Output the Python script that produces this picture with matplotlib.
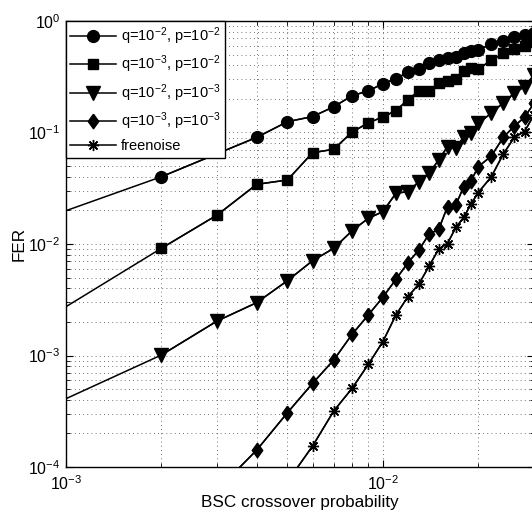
import matplotlib
matplotlib.use("Agg")
import matplotlib.pyplot as plt
from matplotlib.ticker import LogLocator, NullFormatter

plt.rcParams['font.family'] = ['Liberation Sans', 'DejaVu Sans']
plt.rcParams['mathtext.fontset'] = 'custom'
plt.rcParams['mathtext.rm'] = 'Liberation Sans'
plt.rcParams['mathtext.it'] = 'Liberation Sans'

x_full = [0.001, 0.002, 0.003, 0.004, 0.005, 0.006, 0.007, 0.008, 0.009, 0.010,
          0.011, 0.012, 0.013, 0.014, 0.015, 0.016, 0.017, 0.018, 0.019, 0.020,
          0.022, 0.024, 0.026, 0.028, 0.030]
x_circ = [0.001, 0.002, 0.004, 0.005, 0.006, 0.007, 0.008, 0.009, 0.010,
          0.011, 0.012, 0.013, 0.014, 0.015, 0.016, 0.017, 0.018, 0.019, 0.020,
          0.022, 0.024, 0.026, 0.028, 0.030]
fer_q2_p2 = [0.0199, 0.0401, 0.0905, 0.125, 0.139, 0.170, 0.214, 0.236, 0.274,
             0.304, 0.347, 0.369, 0.417, 0.447, 0.463, 0.479, 0.513, 0.538, 0.549,
             0.622, 0.662, 0.714, 0.749, 0.776]
fer_q3_p2 = [0.00274, 0.00915, 0.0182, 0.0343, 0.0375, 0.0659, 0.0707, 0.101, 0.122, 0.138,
             0.157, 0.197, 0.236, 0.236, 0.276, 0.290, 0.304, 0.356, 0.381, 0.371,
             0.444, 0.513, 0.557, 0.597, 0.650]
fer_q2_p3 = [0.00041, 0.00101, 0.00204, 0.00298, 0.00469, 0.00708, 0.00915, 0.01316, 0.0170, 0.0195,
             0.0285, 0.0295, 0.0362, 0.0431, 0.0567, 0.0746, 0.0721, 0.0917, 0.0996, 0.121,
             0.149, 0.185, 0.225, 0.258, 0.328]
x_low = [0.003, 0.004, 0.005, 0.006, 0.007, 0.008, 0.009, 0.010,
         0.011, 0.012, 0.013, 0.014, 0.015, 0.016, 0.017, 0.018, 0.019, 0.020,
         0.022, 0.024, 0.026, 0.028, 0.030]
fer_q3_p3 = [0.000062, 0.000142, 0.000307, 0.000562, 0.000912, 0.00155, 0.00231, 0.00333,
             0.00482, 0.00680, 0.00883, 0.0123, 0.0135, 0.0216, 0.0224, 0.0327, 0.037, 0.0493,
             0.0615, 0.0905, 0.114, 0.137, 0.183]
x_free = [0.005, 0.006, 0.007, 0.008, 0.009, 0.010,
          0.011, 0.012, 0.013, 0.014, 0.015, 0.016, 0.017, 0.018, 0.019, 0.020,
          0.022, 0.024, 0.026, 0.028, 0.030]
fer_free = [0.000074, 0.000154, 0.000318, 0.000508, 0.000834, 0.00133,
            0.00231, 0.00337, 0.00438, 0.00635, 0.00896, 0.0101, 0.0141, 0.0173, 0.0229, 0.0289,
            0.0401, 0.0641, 0.0905, 0.102, 0.144]

labels = [r'q=10$^{-2}$, p=10$^{-2}$', r'q=10$^{-3}$, p=10$^{-2}$',
          r'q=10$^{-2}$, p=10$^{-3}$', r'q=10$^{-3}$, p=10$^{-3}$', 'freenoise']

diamond = [(0, 1), (0.72, 0), (0, -1), (-0.72, 0), (0, 1)]

series = [
    (x_circ, fer_q2_p2, 'o', 8.5, 1),
    (x_full, fer_q3_p2, 's', 7.5, 1),
    (x_full, fer_q2_p3, 'v', 9.5, 1),
    (x_low, fer_q3_p3, diamond, 10.5, 0),
    (x_free, fer_free, (8, 2, 0), 8, 0),
]

fig = plt.figure(figsize=(5.32, 5.17), dpi=100)
ax = fig.add_axes([66/532, 50/517, 468/532, 446/517])

for (xs, ys, mk, ms, skip), lab in zip(series, labels):
    # full line (first point sits on the left axis limit, drawn without marker)
    ax.plot(xs, ys, '-', color='k', lw=1.1)
    ax.plot(xs[skip:], ys[skip:], '-', color='k', lw=1.1, marker=mk, ms=ms,
            mew=1.0, label=lab)

ax.set_xscale('log')
ax.set_yscale('log')
ax.set_xlim(1e-3, 3e-2)
ax.set_ylim(1e-4, 1e0)

ax.xaxis.set_minor_locator(LogLocator(base=10, subs=range(2, 10), numticks=20))
ax.yaxis.set_minor_locator(LogLocator(base=10, subs=range(2, 10), numticks=20))
ax.xaxis.set_minor_formatter(NullFormatter())
ax.yaxis.set_minor_formatter(NullFormatter())
ax.grid(True, which='both', linestyle=(0, (1, 4)), color='#444444', lw=0.6)
ax.tick_params(which='both', direction='in', top=True, right=True, labelsize=11.5)
ax.tick_params(axis='x', which='major', pad=5)
ax.tick_params(axis='y', which='major', pad=4)
ax.tick_params(which='major', length=5)
ax.tick_params(which='minor', length=3)
for s in ax.spines.values():
    s.set_linewidth(1.0)

ax.set_xlabel('BSC crossover probability', fontsize=12.3)
ax.set_ylabel('FER', fontsize=12.3)
ax.xaxis.set_label_coords(0.5, -0.062)
ax.yaxis.set_label_coords(-0.084, 0.5)

leg = ax.legend(loc='upper left', fontsize=10.5, handlelength=3.1, borderaxespad=0,
                fancybox=False, framealpha=1, edgecolor='k', borderpad=0.3,
                labelspacing=0.47, handletextpad=0.35)
leg.get_frame().set_linewidth(1.0)

fig.savefig('out.png', dpi=100)
